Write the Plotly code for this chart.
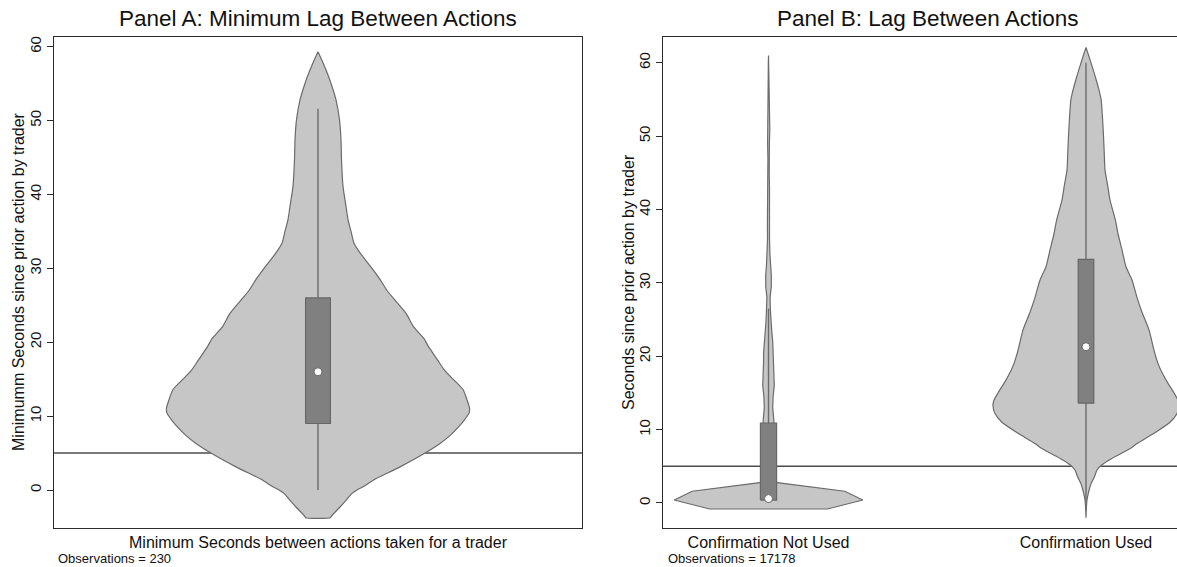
import numpy as np
import plotly.graph_objects as go

# ---- Panel A: minimum seconds between actions, per trader (N = 230) ----
a_label = "Minimum Seconds between actions taken for a trader"
a_grid = [-3.75, -3.6, -2.3, -1.4, -0.45, 0.0, 0.5, 1.4, 2.0, 3.2, 5.0, 6.3, 7.5,
          8.6, 9.6, 10.4, 11.1, 12.2, 13.6, 15.0, 16.3, 17.5, 18.5, 19.5, 20.5,
          22.0, 23.9, 25.7, 27.0, 28.5, 30.0, 31.2, 32.3, 33.4, 35.0, 36.6, 38.4,
          41.1, 44.7, 47.4, 50.1, 52.8, 54.4, 56.0, 57.5, 59.3]
a_density = [12.5, 13, 22, 28, 34, 39, 46, 56, 65, 83, 107, 122, 133,
             141, 147, 151, 151.5, 149, 145, 135, 126, 120, 115, 110, 106,
             96, 88, 77, 69, 62, 54, 47, 41, 36, 33, 30, 28,
             25, 23.5, 23, 21.5, 18, 14.5, 10.5, 6, 0]
a_stats = {"lower": 0.0, "q1": 9.0, "median": 16.0, "q3": 26.0, "upper": 51.6}
a_obs = 230

# ---- Panel B: seconds since prior action, by confirmation use (N = 17178) ----
b_categories = ["Confirmation Not Used", "Confirmation Used"]
b_not_grid = [-0.82, 0.41, 1.6, 2.8, 4.0, 6.0, 8.0, 10.0, 11.5, 13.0, 14.5, 16.0,
              17.5, 19.0, 20.5, 22.0, 23.5, 25.0, 26.5, 28.0, 29.5, 31.0, 32.5,
              34.0, 36.0, 38.0, 40.0, 41.5, 43.0, 45.0, 47.0, 49.0, 51.0, 52.5,
              54.0, 56.0, 58.0, 60.0, 61.0]
b_not_density = [59, 94.5, 76.5, 7, 6.5, 6.5, 6.5, 6, 5.2, 4.2, 4.6, 5.8,
                 5.4, 5.0, 4.9, 4.2, 3.2, 2.4, 1.8, 1.6, 2.8, 2.8, 2.0,
                 1.4, 1.0, 1.1, 1.4, 1.6, 1.0, 0.7, 0.6, 0.9, 1.3, 1.1,
                 0.6, 0.4, 0.3, 0.2, 0]
b_used_grid = [-2.0, -1.0, 0.0, 0.4, 1.0, 1.8, 2.6, 3.6, 4.5, 5.2, 6.0, 6.8, 7.5,
               8.1, 9.5, 11.0, 12.2, 13.3, 14.0, 15.0, 16.3, 17.5, 19.0, 20.8,
               23.6, 26.0, 28.0, 30.4, 32.2, 34.5, 36.7, 38.5, 41.3, 43.0, 45.4,
               47.5, 50.0, 52.5, 54.9, 56.0, 58.0, 60.0, 62.1]
b_used_density = [0, 0.3, 0.7, 1, 1.8, 3.2, 5, 8.5, 11, 16, 25, 36, 45,
                  51, 68, 84, 91, 93, 92, 88, 82, 77, 72, 68,
                  63, 56, 51, 46, 40, 36, 32, 29.5, 24, 22, 19,
                  18.3, 17.5, 16.5, 15.2, 13.5, 9.5, 5, 0]
b_not_stats = {"lower": 0.0, "q1": 0.4, "median": 0.6, "q3": 10.9, "upper": 26.5}
b_used_stats = {"lower": 0.0, "q1": 13.6, "median": 21.3, "q3": 33.2, "upper": 60.0}
b_obs = 17178

threshold = 5  # reference line, seconds

# ---- styling ----
FONT = "Liberation Sans, Arial, sans-serif"
VIOLIN_FILL = "#c6c6c6"
VIOLIN_LINE = "#6b6b6b"
BOX_FILL = "#808080"
BOX_LINE = "#676767"
AXIS_COLOR = "#2b2b2b"
TEXT_COLOR = "#111111"

W, H = 1177, 567
PLOT_TOP, PLOT_BOTTOM = 36.7, 527.7
A_LEFT, A_RIGHT = 54, 582
B_LEFT = 663

fig = go.Figure()


def add_violin(xref, yref, center, grid, density, half_width, box_half, stats, shape):
    d = np.asarray(density, float)
    d = d / d.max() * half_width
    y = np.asarray(grid, float)
    xs = np.concatenate([center + d, (center - d)[::-1], [center + d[0]]])
    ys = np.concatenate([y, y[::-1], [y[0]]])
    fig.add_trace(go.Scatter(
        x=xs, y=ys, xaxis=xref, yaxis=yref, mode="lines", fill="toself",
        fillcolor=VIOLIN_FILL, line=dict(color=VIOLIN_LINE, width=1.2, shape=shape, smoothing=0.6),
        hoverinfo="skip", showlegend=False))
    # whiskers (adjacent values)
    fig.add_trace(go.Scatter(
        x=[center, center], y=[stats["lower"], stats["upper"]], xaxis=xref, yaxis=yref,
        mode="lines", line=dict(color=VIOLIN_LINE, width=1.4), hoverinfo="skip", showlegend=False))
    # interquartile box
    bx = [center - box_half, center + box_half, center + box_half, center - box_half, center - box_half]
    by = [stats["q1"], stats["q1"], stats["q3"], stats["q3"], stats["q1"]]
    fig.add_trace(go.Scatter(
        x=bx, y=by, xaxis=xref, yaxis=yref, mode="lines", fill="toself",
        fillcolor=BOX_FILL, line=dict(color=BOX_LINE, width=1.2),
        hoverinfo="skip", showlegend=False))
    # median marker
    fig.add_trace(go.Scatter(
        x=[center], y=[stats["median"]], xaxis=xref, yaxis=yref, mode="markers",
        marker=dict(size=8, color="white", line=dict(color=BOX_LINE, width=1)),
        hoverinfo="skip", showlegend=False))


add_violin("x", "y", 0, a_grid, a_density, 0.574, 0.047, a_stats, "spline")
add_violin("x2", "y2", 0, b_not_grid, b_not_density, 0.297, 0.0255, b_not_stats, "linear")
add_violin("x2", "y2", 1, b_used_grid, b_used_density, 0.293, 0.0245, b_used_stats, "spline")

ydom = [1 - PLOT_BOTTOM / H, 1 - PLOT_TOP / H]
yaxis_common = dict(
    domain=ydom, tickmode="array", tickvals=list(range(0, 61, 10)),
    ticks="outside", ticklen=6, tickwidth=1.2, tickcolor=AXIS_COLOR, tickangle=-90,
    tickfont=dict(family=FONT, size=15, color=TEXT_COLOR),
    showgrid=False, zeroline=False, showline=True, linecolor=AXIS_COLOR, linewidth=1.3,
)
xaxis_common = dict(
    ticks="", showgrid=False, zeroline=False, showline=True, linecolor=AXIS_COLOR,
    linewidth=1.3, mirror=True, tickfont=dict(family=FONT, size=16, color=TEXT_COLOR),
)

fig.update_layout(
    width=W, height=H, margin=dict(l=0, r=0, t=0, b=0),
    paper_bgcolor="white", plot_bgcolor="white",
    showlegend=False,
    xaxis=dict(domain=[A_LEFT / W, A_RIGHT / W], range=[-1, 1],
               tickvals=[0], ticktext=[a_label], **xaxis_common),
    yaxis=dict(range=[-5.10, 61.35], mirror=True, **yaxis_common),
    xaxis2=dict(domain=[B_LEFT / W, 1.0], range=[-0.3323, 1.2866],
                tickvals=[0, 1], ticktext=b_categories, **xaxis_common),
    yaxis2=dict(range=[-3.37, 63.56], anchor="x2", mirror=False, **yaxis_common),
)
fig.update_layout(xaxis2_anchor="y2")

# reference line at the threshold, under the violins
for xr, yr in (("x", "y"), ("x2", "y2")):
    fig.add_shape(type="line", xref=f"{xr} domain", yref=yr, x0=0, x1=1,
                  y0=threshold, y1=threshold, layer="below",
                  line=dict(color="#4d4d4d", width=1.5))

# panel titles, axis titles, notes
ann_font = dict(family=FONT, color=TEXT_COLOR)
fig.add_annotation(x=318 / W, y=1 - 18 / H, xref="paper", yref="paper",
                   text="Panel A: Minimum Lag Between Actions", showarrow=False,
                   font=dict(size=22.5, **ann_font), xanchor="center", yanchor="middle")
fig.add_annotation(x=927 / W, y=1 - 18 / H, xref="paper", yref="paper",
                   text="Panel B: Lag Between Actions", showarrow=False,
                   font=dict(size=22.5, **ann_font), xanchor="center", yanchor="middle")
fig.add_annotation(x=18 / W, y=1 - 282 / H, xref="paper", yref="paper",
                   text="Minimumm Seconds since prior action by trader", textangle=-90,
                   showarrow=False, font=dict(size=16, **ann_font),
                   xanchor="center", yanchor="middle")
fig.add_annotation(x=628 / W, y=1 - 282 / H, xref="paper", yref="paper",
                   text="Seconds since prior action by trader", textangle=-90,
                   showarrow=False, font=dict(size=16, **ann_font),
                   xanchor="center", yanchor="middle")
fig.add_annotation(x=56 / W, y=1 - 558 / H, xref="paper", yref="paper",
                   text=f"Observations = {a_obs}", showarrow=False,
                   font=dict(size=13, **ann_font), xanchor="left", yanchor="middle")
fig.add_annotation(x=666 / W, y=1 - 558 / H, xref="paper", yref="paper",
                   text=f"Observations = {b_obs}", showarrow=False,
                   font=dict(size=13, **ann_font), xanchor="left", yanchor="middle")

fig.write_html("out.html")
